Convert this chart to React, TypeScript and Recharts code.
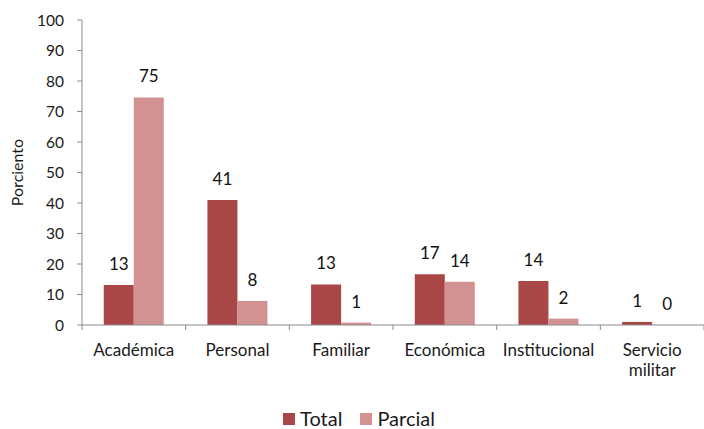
import React from 'react';
import { BarChart, Bar, XAxis, YAxis, LabelList, Legend } from 'recharts';

const categories = ['Académica', 'Personal', 'Familiar', 'Económica', 'Institucional', 'Servicio militar'];
const totalValues = [13.1, 41.0, 13.3, 16.6, 14.4, 1.0];
const parcialValues = [74.6, 7.9, 0.8, 14.2, 2.1, 0];
const yTicks = [0, 10, 20, 30, 40, 50, 60, 70, 80, 90, 100];
const seriesNames = ['Total', 'Parcial'];
const seriesColors = ['#A94646', '#D39292'];

const data = categories.map((c, i) => ({ name: c, Total: totalValues[i], Parcial: parcialValues[i] }));

const FONT = 'Lato, "Open Sans", sans-serif';
const AXIS = '#8a8a8a';
const TEXT = '#1a1a1a';

const CatTick = (props: any) => {
  const { x, y, payload } = props;
  const half = payload.offset || 0;
  const words = payload.value === 'Servicio militar' ? ['Servicio', 'militar'] : [payload.value];
  const isFirst = payload.index === 0;
  return (
    <g>
      {isFirst && <line x1={x - half} x2={x - half} y1={y - 5} y2={y} stroke={AXIS} />}
      <line x1={x + half} x2={x + half} y1={y - 5} y2={y} stroke={AXIS} />
      <text x={x} y={y} textAnchor="middle" fontSize={17} fill={TEXT} fontFamily={FONT}>
        {words.map((w: string, i: number) => (
          <tspan key={i} x={x} dy={i === 0 ? 26 : 20}>{w}</tspan>
        ))}
      </text>
    </g>
  );
};

const LegendContent = () => (
  <div style={{ display: 'flex', justifyContent: 'center', gap: 18, fontFamily: FONT, fontSize: 20, lineHeight: '24px', color: TEXT, paddingLeft: 14, paddingTop: 21 }}>
    {seriesNames.map((n, i) => (
      <span key={n} style={{ display: 'flex', alignItems: 'center' }}>
        <span style={{ display: 'inline-block', width: 12, height: 12, background: seriesColors[i], marginRight: 5, marginTop: 2 }} />
        {n}
      </span>
    ))}
  </div>
);

const fmt = (v: any) => String(Math.round(Number(v)));

export default function App() {
  return (
    <div style={{ position: 'absolute', left: 0, top: 0 }}>
      <BarChart
        width={704}
        height={429}
        data={data}
        margin={{ top: 20, right: 0, bottom: 0, left: 0 }}
        barCategoryGap="21%"
        barGap={0}
      >
        <XAxis
          dataKey="name"
          interval={0}
          tick={<CatTick />}
          tickLine={false}
          tickSize={5}
          tickMargin={0}
          axisLine={{ stroke: AXIS }}
          height={60}
        />
        <YAxis
          width={82}
          domain={[0, 100]}
          ticks={yTicks}
          interval={0}
          tickSize={5}
          tickMargin={13}
          axisLine={{ stroke: AXIS }}
          tickLine={{ stroke: AXIS }}
          tick={{ fontSize: 15.5, fill: TEXT, fontFamily: FONT }}
          label={{ value: 'Porciento', angle: -90, position: 'insideLeft', offset: 17, style: { fontSize: 16, fill: TEXT, fontFamily: FONT, textAnchor: 'middle' } }}
        />
        <Legend verticalAlign="bottom" height={44} content={<LegendContent />} />
        <Bar dataKey="Total" fill={seriesColors[0]} isAnimationActive={false}>
          <LabelList dataKey="Total" position="top" offset={15} formatter={fmt} style={{ fontSize: 17, fill: '#111', fontFamily: FONT }} />
        </Bar>
        <Bar dataKey="Parcial" fill={seriesColors[1]} minPointSize={0.01} isAnimationActive={false}>
          <LabelList dataKey="Parcial" position="top" offset={15} formatter={fmt} style={{ fontSize: 17, fill: '#111', fontFamily: FONT }} />
        </Bar>
      </BarChart>
    </div>
  );
}
